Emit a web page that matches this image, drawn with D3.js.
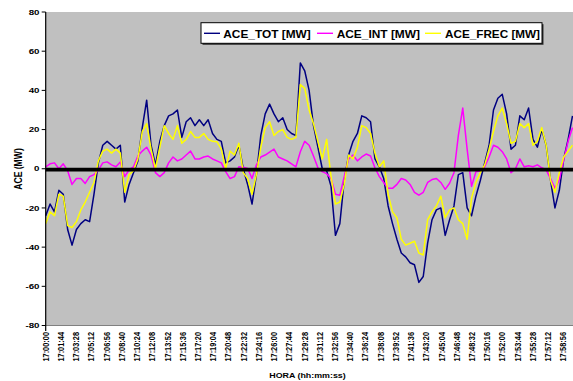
<!DOCTYPE html>
<html>
<head>
<meta charset="utf-8">
<script src="https://cdn.jsdelivr.net/npm/d3@7"></script>
<style>
  body { margin: 0; background: #fff; }
  svg { display: block; font-family: "Liberation Sans", Arial, sans-serif; font-weight: bold; }
</style>
</head>
<body>
<svg id="chart" width="573" height="381"></svg>
<script>
// Sampling: one reading every 30 s starting at 17:00:00
const SAMPLE_STEP_S = 30;

// Category tick labels (every 104 s)
const timeLabels = ["17:00:00","17:01:44","17:03:28","17:05:12","17:06:56","17:08:40","17:10:24",
  "17:12:08","17:13:52","17:15:36","17:17:20","17:19:04","17:20:48","17:22:32","17:24:16",
  "17:26:00","17:27:44","17:29:28","17:31:12","17:32:56","17:34:40","17:36:24","17:38:08",
  "17:39:52","17:41:36","17:43:20","17:45:04","17:46:48","17:48:32","17:50:16","17:52:00",
  "17:53:44","17:55:28","17:57:12","17:58:56"];

const yTicks = [-80, -60, -40, -20, 0, 20, 40, 60, 80];

const seriesNames = ["ACE_TOT [MW]", "ACE_INT [MW]", "ACE_FREC [MW]"];
const seriesColors = ["#000080", "#ff00ff", "#ffff00"];

const aceTot = [
  -24,-18,-22,-11,-13,-31,-39,-31,-28,-26,
  -27,-13,3,12,14,12,10,12,-17,-8,
  -2,4,21,35,12,2,14,22,27,28,
  30,16,24,26,22,25,22,25,18,15,
  14,3,4,6,12,0,-8,-18,-3,17,
  28,33,28,24,26,20,18,17,54,50,
  40,22,11,0,-1,-9,-34,-28,-6,7,
  14,18,27,26,24,5,1,-5,-19,-28,
  -36,-43,-45,-48,-49,-58,-55,-38,-26,-21,
  -20,-34,-26,-19,-3,-2,-20,-24,-14,-6,
  3,12,30,36,38,28,10,12,27,25,
  31,15,11,20,12,-6,-20,-11,5,15,
  27];

const aceInt = [
  1,2.5,3,0,2.5,-1,-8,-5,-5,-7.5,
  -4,-3,-0.7,3,3.5,2,1,3.5,-4,-0.5,
  1,6.5,9,11,7,-2,-4,-2,3,6,
  4,5,7,9,5,5,6,6.5,5,4,
  3,-1.5,-5,-4,1,0.8,0.2,-5,2,6,
  7,8.5,10,6,5,4,2.5,1,8.7,14,
  12,6.5,0.5,-1.5,-2.5,-5,-13,-13.5,-4,5,
  7,4,6,7.5,6.5,0.5,-4,-7,-10,-10,
  -8,-5,-5.7,-8,-12,-13.5,-12,-7,-5.5,-5,
  -7,-10.5,-7.4,-2,17,31,10,-9,-1.5,-1,
  1,6,12,11,8.7,5,-2,0,5,1,
  1.5,1,2,0.5,-0.6,-5,-10,-5.7,4.5,14,
  21];

const aceFrec = [
  -28,-22,-24,-13,-14,-29,-30,-27,-21,-17,
  -12,-7,4,9,10,8,10,8,-12,-3,
  -1,5,19,23,10,0,11,22,18,15,
  22,13,15,19,16,16,18,15,14,13.8,
  10,0,9,7,13,-2,-5,-13,-3,11,
  21,24,17,19,20,16,15,16,43,41,
  30,23,14,5,15,-4,-18,-17,-8,7,
  5,11,22,21,18,8,1,4,-13,-22,
  -25,-36,-39,-38,-37,-43,-44,-26,-22,-19,
  -14,-25,-21,-20,-26,-28,-36,-15,-7,-2,
  2,10,19,27,31,23,13,14,23,21,
  23,12,14,21,12,-6,-12,-2,6,9,
  12];

const seriesValues = [aceTot, aceInt, aceFrec];

// ---- layout ----
const svg = d3.select("#chart");
const plot = { left: 45.7, right: 573, top: 12, bottom: 325.5 };

const x = d3.scaleLinear().domain([0, 3600]).range([plot.left, 572.5]);
const y = d3.scaleLinear().domain([-80, 80]).range([plot.bottom, plot.top]);

const toSeconds = s => {
  const [h, m, sec] = s.split(":").map(Number);
  return (h - 17) * 3600 + m * 60 + sec;
};

// plot area
svg.append("rect")
  .attr("x", plot.left).attr("y", plot.top)
  .attr("width", plot.right - plot.left).attr("height", plot.bottom - plot.top)
  .attr("fill", "#c0c0c0");
svg.append("line")
  .attr("x1", plot.left).attr("x2", plot.right)
  .attr("y1", plot.bottom).attr("y2", plot.bottom)
  .attr("stroke", "#808080").attr("stroke-width", 1);

// series
const line = d3.line()
  .x((d, i) => x(i * SAMPLE_STEP_S))
  .y(d => y(d));

seriesValues.forEach((vals, k) => {
  svg.append("path")
    .datum(vals)
    .attr("fill", "none")
    .attr("stroke", seriesColors[k])
    .attr("stroke-width", 1.5)
    .attr("stroke-linejoin", "round")
    .attr("d", line);
});

// thick category axis line at zero
svg.append("line")
  .attr("x1", plot.left).attr("x2", plot.right)
  .attr("y1", y(0) + 0.8).attr("y2", y(0) + 0.8)
  .attr("stroke", "#000").attr("stroke-width", 3.8);

// value axis
svg.append("line")
  .attr("x1", plot.left).attr("x2", plot.left)
  .attr("y1", plot.top).attr("y2", 331)
  .attr("stroke", "#000").attr("stroke-width", 1.2);

const yAxisG = svg.append("g");
yAxisG.selectAll("line.tick").data(yTicks).join("line")
  .attr("x1", plot.left - 4).attr("x2", plot.left)
  .attr("y1", d => y(d)).attr("y2", d => y(d))
  .attr("stroke", "#000").attr("stroke-width", 1);
yAxisG.selectAll("text").data(yTicks).join("text")
  .attr("transform", d => `translate(39.5,${y(d)}) scale(1.25,1)`)
  .attr("text-anchor", "end")
  .attr("dy", "0.35em")
  .attr("font-size", 7.8)
  .text(d => d);

// category labels
svg.append("g").selectAll("text").data(timeLabels).join("text")
  .attr("transform", d => `translate(${x(toSeconds(d))},332) scale(1.2,1) rotate(-90)`)
  .attr("text-anchor", "end")
  .attr("dy", "0.35em")
  .attr("font-size", 7.4)
  .text(d => d);

// axis titles
svg.append("text")
  .attr("transform", "translate(18,169) scale(1.2,1) rotate(-90)")
  .attr("text-anchor", "middle")
  .attr("dy", "0.35em")
  .attr("font-size", 8.6)
  .text("ACE (MW)");

svg.append("text")
  .attr("transform", "translate(307.5,378.3) scale(1.2,1)")
  .attr("text-anchor", "middle")
  .attr("font-size", 7.4)
  .text("HORA (hh:mm:ss)");

// legend
const legend = svg.append("g");
legend.append("rect")
  .attr("x", 202.5).attr("y", 24.2).attr("width", 341).attr("height", 20.6)
  .attr("fill", "#303030");
legend.append("rect")
  .attr("x", 201).attr("y", 22.7).attr("width", 341).attr("height", 20.6)
  .attr("fill", "#fff").attr("stroke", "#000").attr("stroke-width", 1);

const legendItems = [
  { sym: [204, 220], tx: 223.3, len: 87.4 },
  { sym: [317, 333], tx: 336.7, len: 83.3 },
  { sym: [425, 441], tx: 445, len: 95 }
];
legendItems.forEach((it, k) => {
  legend.append("line")
    .attr("x1", it.sym[0]).attr("x2", it.sym[1])
    .attr("y1", 33.3).attr("y2", 33.3)
    .attr("stroke", seriesColors[k]).attr("stroke-width", 1.4);
  legend.append("text")
    .attr("x", it.tx).attr("y", 37.8)
    .attr("font-size", 11)
    .attr("textLength", it.len)
    .attr("lengthAdjust", "spacingAndGlyphs")
    .text(seriesNames[k]);
});
</script>
</body>
</html>
